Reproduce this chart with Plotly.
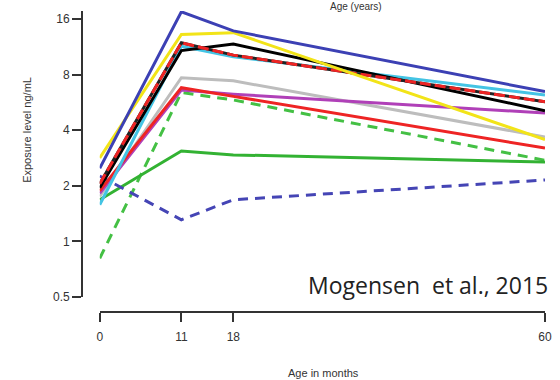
import plotly.graph_objects as go

ages = [0, 11, 18, 60]
x_ticks = [0, 11, 18, 60]
y_ticks = [0.5, 1, 2, 4, 8, 16]
y_tick_text = ["0.5", "1", "2", "4", "8", "16"]

gray = [1.75, 7.7, 7.4, 3.68]
green_dashed = [0.81, 6.4, 5.83, 2.75]
green_solid = [1.68, 3.09, 2.94, 2.69]
blue_dashed = [2.26, 1.31, 1.68, 2.15]
magenta = [1.82, 6.6, 6.27, 4.95]
red_solid = [1.88, 6.8, 6.1, 3.2]
cyan = [1.58, 11.4, 10.0, 6.2]
black = [1.95, 10.8, 11.7, 5.1]
red_dashed = [2.05, 11.9, 10.2, 5.7]
yellow = [2.83, 13.2, 13.5, 3.56]
blue_solid = [2.49, 17.5, 13.8, 6.47]

series = [
    (gray, "#bdbdbd", "solid"),
    (green_dashed, "#44c044", "10px,7px"),
    (green_solid, "#33b233", "solid"),
    (blue_dashed, "#4545b5", "10px,7px"),
    (magenta, "#b040b8", "solid"),
    (red_solid, "#ee2424", "solid"),
    (cyan, "#44c4e4", "solid"),
    (black, "#000000", "solid"),
    (red_dashed, "#222222", "solid"),
    (red_dashed, "#ee2424", "11px,4px"),
    (yellow, "#f2e418", "solid"),
    (blue_solid, "#3c40b4", "solid"),
]

fig = go.Figure()
for vals, col, dash in series:
    fig.add_trace(go.Scatter(x=ages, y=vals, mode="lines",
                             line=dict(color=col, width=3, dash=dash),
                             showlegend=False, hoverinfo="skip"))

font = dict(family="Liberation Sans, Arial, sans-serif", size=12, color="#222222")

fig.update_layout(
    width=560, height=380,
    margin=dict(l=82, r=8, t=11, b=68),
    paper_bgcolor="white", plot_bgcolor="white",
    font=font,
    xaxis=dict(domain=[18 / 470, 1], range=[0, 60], anchor="free", position=0,
               tickvals=x_ticks, ticks="outside", ticklen=9, tickwidth=1.5,
               tickcolor="#333333", showline=True, linecolor="#333333",
               linewidth=1.8, showgrid=False, zeroline=False,
               ticklabelstandoff=5,
               tickfont=dict(size=12, color="#333333")),
    yaxis=dict(type="log", domain=[15 / 301, 1], range=[-0.30103, 1.2475],
               anchor="free", position=0,
               tickvals=y_ticks, ticktext=y_tick_text, ticks="outside",
               ticklen=9, tickwidth=1.5, tickcolor="#333333", showline=True,
               linecolor="#333333", linewidth=1.8, showgrid=False,
               zeroline=False, tickfont=dict(size=12, color="#333333")),
    annotations=[
        dict(text="Exposure level ng/mL", xref="paper", yref="paper",
             x=-56 / 470, y=(312 - 130) / 301, textangle=-90, showarrow=False,
             font=dict(size=11, color="#333333"), xanchor="center", yanchor="middle"),
        dict(text="Age in months", xref="paper", yref="paper",
             x=(327 - 82) / 470, y=-(373 - 312) / 301, showarrow=False,
             font=dict(size=11, color="#333333"), xanchor="center", yanchor="middle"),
        dict(text="Mogensen  et al., 2015", xref="paper", yref="paper",
             x=(557 - 82) / 470, y=(312 - 285) / 301, showarrow=False,
             font=dict(family="Open Sans, sans-serif", size=23, color="#222222"),
             xanchor="right", yanchor="middle"),
        dict(text="Age (years)", xref="paper", yref="paper",
             x=(360 - 82) / 470, y=(312 - 6) / 301, showarrow=False,
             font=dict(family="Liberation Sans, Arial, sans-serif", size=10, color="#333333"),
             xanchor="center", yanchor="middle"),
    ],
)

fig.write_html("out.html")
